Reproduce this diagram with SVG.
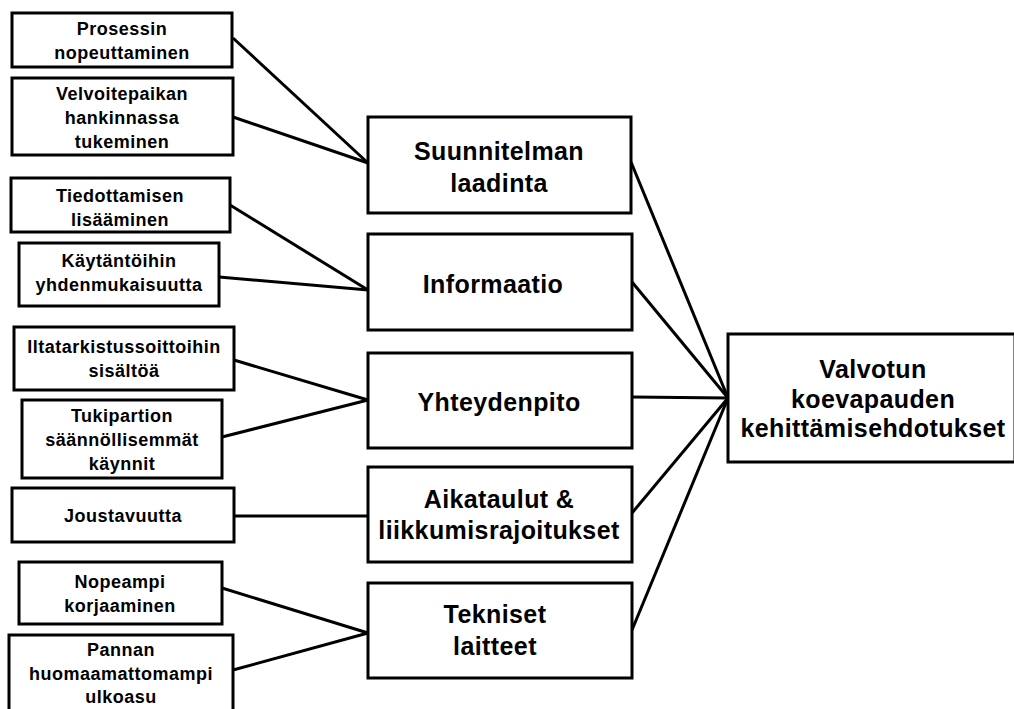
<svg xmlns="http://www.w3.org/2000/svg" width="1014" height="709" viewBox="0 0 1014 709">
<style>
rect{fill:#fff;stroke:#000;stroke-width:3}
.c line{stroke:#000;stroke-width:3}
text{font-family:"Liberation Sans",Arial,sans-serif;font-weight:bold;fill:#000;text-anchor:middle}
.s{font-size:18px;letter-spacing:0.5px}
.m{font-size:25px;letter-spacing:0.4px}
</style>
<rect x="0" y="0" width="1014" height="709" style="stroke:none"/>
<g class="c" id="connectors">
<line x1="233" y1="38" x2="368" y2="163"/>
<line x1="233" y1="117" x2="368" y2="163"/>
<line x1="230" y1="205" x2="368" y2="290"/>
<line x1="219" y1="277" x2="368" y2="290"/>
<line x1="234" y1="360" x2="368" y2="400"/>
<line x1="222" y1="437" x2="368" y2="400"/>
<line x1="234" y1="516" x2="368" y2="516"/>
<line x1="222" y1="588" x2="368" y2="633"/>
<line x1="233" y1="670" x2="368" y2="633"/>
<line x1="631" y1="162" x2="728" y2="398"/>
<line x1="632" y1="282" x2="728" y2="398"/>
<line x1="632" y1="397" x2="728" y2="398"/>
<line x1="632" y1="513" x2="728" y2="398"/>
<line x1="632" y1="630" x2="728" y2="398"/>
</g>
<g id="n1"><rect x="12" y="13" width="220" height="54"/><text class="s" x="122" y="35">Prosessin</text><text class="s" x="122" y="59">nopeuttaminen</text></g>
<g id="n2"><rect x="12" y="78" width="221" height="77"/><text class="s" x="122" y="100">Velvoitepaikan</text><text class="s" x="122" y="124">hankinnassa</text><text class="s" x="122" y="148">tukeminen</text></g>
<g id="n3"><rect x="11" y="178" width="219" height="54"/><text class="s" x="120" y="202">Tiedottamisen</text><text class="s" x="120" y="226">lisääminen</text></g>
<g id="n4"><rect x="19" y="243" width="200" height="63"/><text class="s" x="119" y="267">Käytäntöihin</text><text class="s" x="119" y="291">yhdenmukaisuutta</text></g>
<g id="n5"><rect x="14" y="327" width="220" height="63"/><text class="s" x="124" y="353">Iltatarkistussoittoihin</text><text class="s" x="124" y="377">sisältöä</text></g>
<g id="n6"><rect x="22" y="400" width="200" height="78"/><text class="s" x="122" y="422">Tukipartion</text><text class="s" x="122" y="446">säännöllisemmät</text><text class="s" x="122" y="470">käynnit</text></g>
<g id="n7"><rect x="12" y="488" width="222" height="54"/><text class="s" x="123" y="522">Joustavuutta</text></g>
<g id="n8"><rect x="19" y="562" width="203" height="62"/><text class="s" x="120" y="588">Nopeampi</text><text class="s" x="120" y="612">korjaaminen</text></g>
<g id="n9"><rect x="9" y="635" width="224" height="80"/><text class="s" x="121" y="656">Pannan</text><text class="s" x="121" y="680">huomaamattomampi</text><text class="s" x="121" y="703">ulkoasu</text></g>
<g id="m1"><rect x="368" y="117" width="263" height="96"/><text class="m" x="499" y="160">Suunnitelman</text><text class="m" x="499" y="192">laadinta</text></g>
<g id="m2"><rect x="368" y="234" width="264" height="96"/><text class="m" x="493" y="293">Informaatio</text></g>
<g id="m3"><rect x="368" y="353" width="264" height="95"/><text class="m" x="499" y="411">Yhteydenpito</text></g>
<g id="m4"><rect x="368" y="467" width="264" height="95"/><text class="m" x="499" y="508">Aikataulut &amp;</text><text class="m" x="499" y="539">liikkumisrajoitukset</text></g>
<g id="m5"><rect x="368" y="583" width="264" height="95"/><text class="m" x="495" y="623">Tekniset</text><text class="m" x="495" y="655">laitteet</text></g>
<g id="r"><rect x="728" y="334" width="287" height="128"/><text class="m" x="873" y="378">Valvotun</text><text class="m" x="873" y="408">koevapauden</text><text class="m" x="873" y="437">kehittämisehdotukset</text></g>
</svg>
